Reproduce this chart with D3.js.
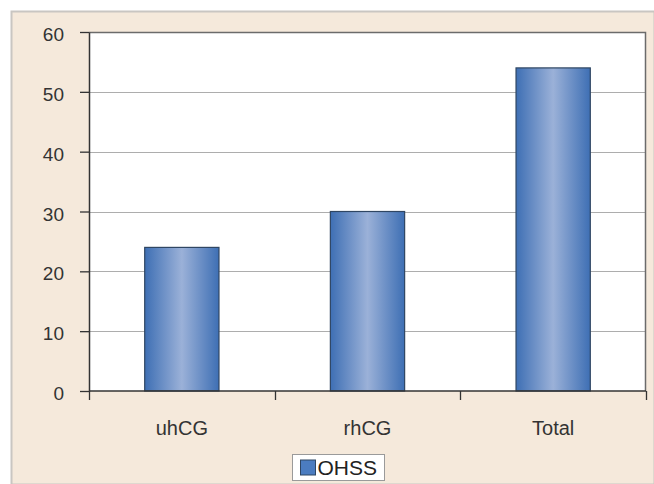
<!DOCTYPE html>
<html>
<head>
<meta charset="utf-8">
<script src="https://cdn.jsdelivr.net/npm/d3@7"></script>
<style>
  body { margin: 0; background: #fff; }
  svg { display: block; font-family: "Liberation Sans", Arial, sans-serif; }
</style>
</head>
<body>
<div id="vis-container"></div>
<script>
// data
const categories = ["uhCG", "rhCG", "Total"];
const ohssValues = [24, 30, 54];
const yTicks = [0, 10, 20, 30, 40, 50, 60];
const seriesName = "OHSS";

let width = 654;
let height = 484;
let margins = { top: 32, right: 8, bottom: 93, left: 89 };
let visWidth = width - margins.left - margins.right;
let visHeight = height - margins.top - margins.bottom;

let svg = d3.select("#vis-container").append("svg").attr("width", width).attr("height", height);

// beige chart frame
svg.append("rect")
    .attr("x", 11.5).attr("y", 11.5)
    .attr("width", width - 11).attr("height", height - 11)
    .attr("fill", "#f5e9db")
    .attr("stroke", "#c9c6c2").attr("stroke-width", 2);

let defs = svg.append("defs");
let grad = defs.append("linearGradient").attr("id", "barGrad").attr("x1", "0%").attr("x2", "100%").attr("y1", "0%").attr("y2", "0%");
grad.append("stop").attr("offset", "0%").attr("stop-color", "#3e6fb4");
grad.append("stop").attr("offset", "50%").attr("stop-color", "#9bb1d8");
grad.append("stop").attr("offset", "100%").attr("stop-color", "#3e6fb4");

let viewport = svg.append("g").attr("transform", "translate(" + margins.left + "," + margins.top + ")");

const xScale = d3.scaleBand().domain(categories).range([0, visWidth]).paddingInner(0.6).paddingOuter(0.3);
const yScale = d3.scaleLinear().domain([0, 60]).range([visHeight, 0]);

// plot area
viewport.append("rect")
    .attr("x", 0).attr("y", 0).attr("width", visWidth).attr("height", visHeight)
    .attr("fill", "#ffffff");

// gridlines
viewport.append("g")
    .selectAll("line")
    .data(yTicks.filter(d => d > 0 && d < 60))
    .enter().append("line")
    .attr("x1", 0).attr("x2", visWidth)
    .attr("y1", d => Math.round(yScale(d)) + 0.5).attr("y2", d => Math.round(yScale(d)) + 0.5)
    .attr("stroke", "#adadad").attr("stroke-width", 1.2);

// top and right border of plot
viewport.append("path")
    .attr("d", "M0," + 0.5 + "H" + (visWidth - 0.5) + "V" + visHeight)
    .attr("fill", "none").attr("stroke", "#6b6b6b").attr("stroke-width", 1.5);

// bars
viewport.append("g")
    .selectAll("rect")
    .data(categories.map((c, i) => ({ cat: c, value: ohssValues[i] })))
    .enter().append("rect")
    .attr("x", d => xScale(d.cat))
    .attr("y", d => yScale(d.value))
    .attr("width", xScale.bandwidth())
    .attr("height", d => visHeight - yScale(d.value))
    .attr("fill", "url(#barGrad)")
    .attr("stroke", "#2f4663").attr("stroke-width", 1.2);

// y axis
let yAxis = viewport.append("g")
    .call(d3.axisLeft(yScale).tickValues(yTicks).tickSize(9).tickPadding(16).tickSizeOuter(0));
yAxis.select(".domain").attr("stroke", "#333").attr("stroke-width", 1.5);
yAxis.selectAll(".tick line").attr("stroke", "#333").attr("stroke-width", 1.3);
yAxis.selectAll("text").attr("fill", "#333").attr("dy", "0.45em").style("font-size", "19px");

// x axis, ticks at band boundaries
let xAxis = viewport.append("g").attr("transform", "translate(0," + visHeight + ")");
xAxis.append("line").attr("x1", 0).attr("x2", visWidth).attr("stroke", "#333").attr("stroke-width", 1.5);
let step = xScale.step();
xAxis.selectAll(".xtick")
    .data(d3.range(categories.length + 1))
    .enter().append("line")
    .attr("class", "xtick")
    .attr("x1", i => Math.round(i * step) + 0.5).attr("x2", i => Math.round(i * step) + 0.5)
    .attr("y1", 0).attr("y2", 9)
    .attr("stroke", "#333").attr("stroke-width", 1.3);
xAxis.selectAll(".xlabel")
    .data(categories)
    .enter().append("text")
    .attr("class", "xlabel")
    .attr("x", d => xScale(d) + xScale.bandwidth() / 2)
    .attr("y", 44)
    .attr("text-anchor", "middle")
    .attr("fill", "#333")
    .style("font-size", "20px")
    .text(d => d);

// legend
let legend = svg.append("g").attr("transform", "translate(292.5,454.5)");
legend.append("rect").attr("width", 92).attr("height", 26).attr("fill", "#fff").attr("stroke", "#9a9a9a");
legend.append("rect").attr("x", 8).attr("y", 5.5).attr("width", 15).attr("height", 15).attr("fill", "#4b7cc0").attr("stroke", "#2f4663");
legend.append("text").attr("x", 25).attr("y", 20.5).attr("fill", "#222").style("font-size", "21px").text(seriesName);
</script>
</body>
</html>
